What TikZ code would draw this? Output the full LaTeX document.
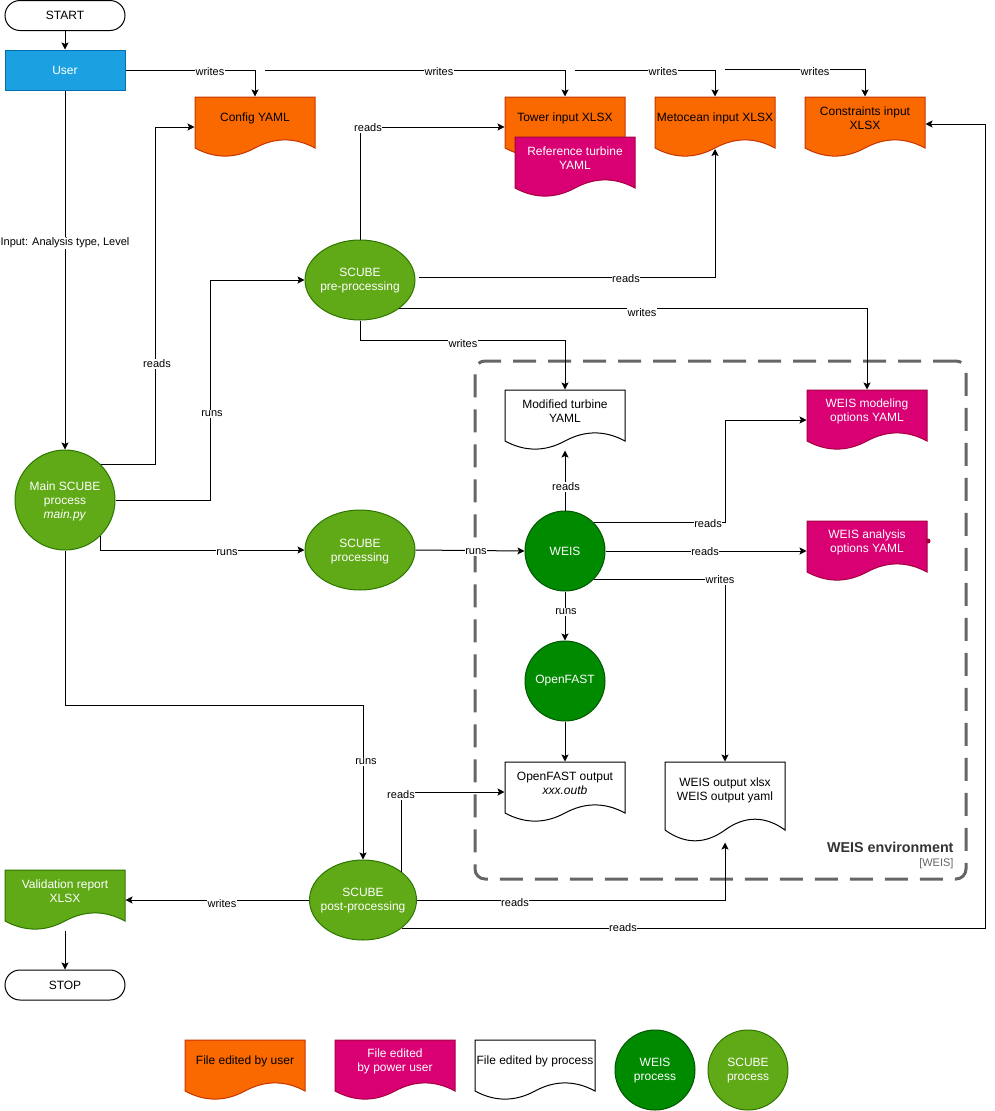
\documentclass[tikz,border=0pt]{standalone}
\usepackage{fontspec}
\setmainfont{Liberation Sans}
\usetikzlibrary{arrows.meta,shapes.geometric,calc}
\definecolor{orfill}{HTML}{FA6800}
\definecolor{orline}{HTML}{C73500}
\definecolor{mgfill}{HTML}{D80073}
\definecolor{mgline}{HTML}{A50040}
\definecolor{gnfill}{HTML}{60A917}
\definecolor{gnline}{HTML}{2D7600}
\definecolor{dgfill}{HTML}{008A00}
\definecolor{dgline}{HTML}{005700}
\definecolor{blfill}{HTML}{1BA1E2}
\definecolor{blline}{HTML}{006EAF}
\definecolor{envgray}{HTML}{666666}
\definecolor{envtext}{HTML}{333333}

\newcommand\docshape[8]{%
 \path[#6] (#2,#3) -- ({#2+#4},#3) -- ({#2+#4},{#3+0.85*#5}) .. controls ({#2+5*#4/6},{#3+0.67*#5}) and ({#2+2*#4/3},{#3+0.67*#5}) .. ({#2+#4/2},{#3+0.85*#5}) .. controls ({#2+#4/3},{#3+1.03*#5}) and ({#2+#4/6},{#3+1.03*#5}) .. (#2,{#3+0.85*#5}) -- cycle;
 \node[inner sep=0pt, minimum width=#4pt, minimum height=#5pt] (#1) at ({#2+#4/2},{#3+#5/2}) {};
 \coordinate (#1-w) at ({#2+#4/2},{#3+0.85*#5});
 \node[#7] (#1-t) at ({#2+#4/2},{#3+0.35*#5}) {#8};
}

\tikzset{
 every picture/.style={line width=1pt},
 txt/.style={align=center, font=\fontsize{12}{14}\selectfont, inner sep=0pt},
 wtxt/.style={txt, text=white},
 lbl/.style={fill=white, inner sep=0.6pt, font=\fontsize{11}{13}\selectfont},
 orangedoc/.style={fill=orfill, draw=orline},
 magdoc/.style={fill=mgfill, draw=mgline},
 whitedoc/.style={fill=white, draw=black},
 greendoc/.style={fill=gnfill, draw=gnline},
 term/.style={draw, rounded corners=15pt, minimum width=120pt, minimum height=30pt, inner sep=0pt, font=\fontsize{12}{14}\selectfont},
 userbox/.style={fill=blfill, draw=blline, minimum width=120pt, minimum height=40pt, inner sep=0pt, text=white, font=\fontsize{12}{14}\selectfont},
 scube/.style={ellipse, fill=gnfill, draw=gnline, minimum width=110pt, minimum height=80pt, inner sep=0pt},
 weisc/.style={circle, fill=dgfill, draw=dgline, minimum size=80pt, inner sep=0pt},
 arr/.style={draw, line width=1pt, -{Stealth[length=7pt,width=7pt,inset=1.5pt]}},
 envbox/.style={draw=envgray, line width=3pt, dash pattern=on 23pt off 12pt, rounded corners=10pt, minimum width=491pt, minimum height=518pt, inner sep=0pt},
}

\begin{document}
\begin{tikzpicture}[x=1pt,y=-1pt]
\useasboundingbox (0,0) rectangle (994,1111);

% container
\node[envbox] (env) at (720.5,620) {};
\node[anchor=east, inner sep=0pt, text=envtext, font=\fontsize{14.3}{16}\selectfont\bfseries] (envt) at (954,847) {WEIS environment};
\node[anchor=east, inner sep=0pt, text=envgray, font=\fontsize{11}{13}\selectfont] (envs) at (954,864) {[WEIS]};

% terminals and user
\node[term] (start) at (65,15.5) {START};
\node[userbox] (user) at (65,70) {User};
\node[term] (stop) at (65,985) {STOP};

% documents
\docshape{config}{195}{97}{120}{60}{orangedoc}{txt}{Config YAML}
\docshape{tower}{505}{97}{120}{60}{orangedoc}{txt}{Tower input XLSX}
\docshape{reft}{515}{137}{120}{60}{magdoc}{wtxt}{Reference turbine\\YAML}
\docshape{meto}{655}{97}{120}{60}{orangedoc}{txt}{Metocean input XLSX}
\docshape{cons}{805}{97}{120}{60}{orangedoc}{txt}{Constraints input\\XLSX}
\docshape{modt}{505}{390}{120}{60}{whitedoc}{txt}{Modified turbine\\YAML}
\docshape{wmod}{807}{390}{120}{60}{magdoc}{wtxt}{WEIS modeling\\options YAML}
\docshape{wana}{807}{521}{120}{60}{magdoc}{wtxt}{WEIS analysis\\options YAML}
\docshape{ofout}{505}{762}{120}{60}{whitedoc}{txt}{OpenFAST output\\\textit{xxx.outb}}
\docshape{wout}{665}{762}{120}{80}{whitedoc}{txt}{WEIS output xlsx\\WEIS output yaml}
\docshape{valid}{5}{870}{120}{60}{greendoc}{wtxt}{Validation report\\XLSX}
\node[circle, fill=mgline, inner sep=0pt, minimum size=5pt] (dot) at (928,541) {};

% processes
\node[circle, fill=gnfill, draw=gnline, minimum size=100pt, inner sep=0pt] (main) at (65,500) {};
\node[wtxt] (main-t) at (65,501) {Main SCUBE\\process\\\textit{main.py}};
\node[scube] (pre) at (360,280) {};
\node[wtxt] (pre-t) at (360,280.5) {SCUBE\\pre-processing};
\node[scube] (proc) at (360,550) {};
\node[wtxt] (proc-t) at (360,551.5) {SCUBE\\processing};
\node[scube, minimum width=107pt] (post) at (363,900) {};
\node[wtxt] (post-t) at (363,900.5) {SCUBE\\post-processing};
\node[weisc] (weis) at (565,551) {};
\node[wtxt] (weis-t) at (565,551) {WEIS};
\node[weisc] (ofast) at (565,681) {};
\node[wtxt] (ofast-t) at (565,681) {OpenFAST};

% coordinates for free ends
\coordinate (uw2) at (265,70);
\coordinate (uw3) at (575,70);
\coordinate (uw4) at (725,69);
\coordinate (pm) at (419,277);

% connectors
\draw[arr] (start.south) -- (user.north);
\draw[arr] (user.east) -| (config.north);
\draw[arr] (uw2) -| (tower.north);
\draw[arr] (uw3) -| (meto.north);
\draw[arr] (uw4) -| (cons.north);
\draw[arr] (user.south) -- (main.north);
\draw[arr] (main.45) -| (155,127) -- (config.west);
\draw[arr] (main.east) -| (210,280) -- (pre.west);
\draw[arr] (main.-45) |- (proc.west);
\draw[arr] (main.south) -- (65,705) -| (post.north);
\draw[arr] (pre.north) |- (tower.west);
\draw[arr] (pm) -| ([yshift=-1pt]meto-w);
\draw[arr] (pre.-36.8) -| (wmod.north);
\draw[arr] (pre.south) -- (360,340) -| (modt.north);
\draw[arr] (proc.east) -- (weis.west);
\draw[arr] (weis.north) -- (modt.south);
\draw[arr] (weis.45) -| (725,420) -- (wmod.west);
\draw[arr] (weis.east) -- (wana.west);
\draw[arr] (weis.-45) -| (wout.north);
\draw[arr] (weis.south) -- (ofast.north);
\draw[arr] (ofast.south) -- (ofout.north);
\draw[arr] (post.36.6) |- (ofout.west);
\draw[arr] (post.east) -| (wout.south);
\draw[arr] (post.west) -- (valid.east);
\draw[arr] (post.-36.3) -| (985,124) -- ([yshift=3pt]cons.east);
\draw[arr] (valid.south) -- (stop.north);

% connector labels
\node[lbl] (l1) at (210,72) {writes};
\node[lbl] (l2) at (439,72) {writes};
\node[lbl] (l3) at (663,72) {writes};
\node[lbl] (l4) at (815,72) {writes};
\node[lbl] (l5) at (65,243) {Input: Analysis type, Level};
\node[lbl] (l6) at (157,364) {reads};
\node[lbl] (l7) at (212,414) {runs};
\node[lbl] (l8) at (227,553) {runs};
\node[lbl] (l9) at (366,762) {runs};
\node[lbl] (l10) at (368,128) {reads};
\node[lbl] (l11) at (626,279) {reads};
\node[lbl] (l12) at (642,313) {writes};
\node[lbl] (l13) at (463,344) {writes};
\node[lbl] (l14) at (476,552) {runs};
\node[lbl] (l15) at (566,487) {reads};
\node[lbl] (l16) at (708,524) {reads};
\node[lbl] (l17) at (705,552) {reads};
\node[lbl] (l18) at (720,580) {writes};
\node[lbl] (l19) at (566,612) {runs};
\node[lbl] (l20) at (401,795) {reads};
\node[lbl] (l21) at (515,903) {reads};
\node[lbl] (l22) at (222,904) {writes};
\node[lbl] (l23) at (623,928) {reads};

% legend
\docshape{lg1}{185}{1040}{120}{60}{orangedoc}{txt}{File edited by user}
\docshape{lg2}{335}{1040}{120}{60}{magdoc}{wtxt}{File edited\\by power user}
\docshape{lg3}{475}{1040}{120}{60}{whitedoc}{txt}{File edited by process}
\node[weisc] (lgw) at (655,1070) {};
\node[wtxt] (lgw-t) at (655,1071) {WEIS\\process};
\node[scube, minimum width=80pt] (lgs) at (748,1070) {};
\node[wtxt] (lgs-t) at (748,1071) {SCUBE\\process};
\end{tikzpicture}
\end{document}
